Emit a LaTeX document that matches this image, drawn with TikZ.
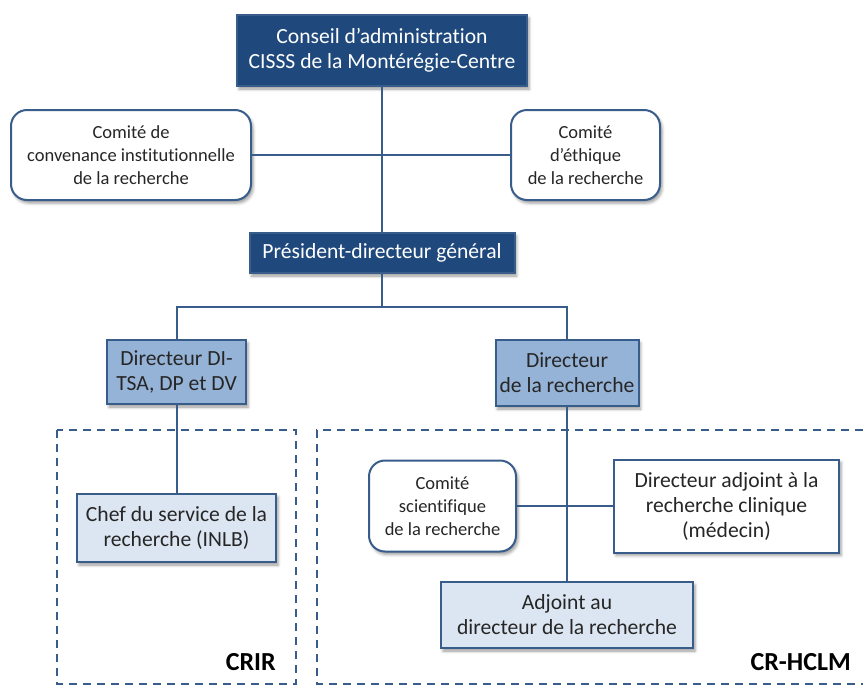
\documentclass[tikz,border=0pt]{standalone}
\usepackage{fontspec}
\setmainfont{Carlito}[Ligatures={NoCommon}]
\usetikzlibrary{shadows.blur}
\definecolor{navy}{HTML}{1F497D}
\definecolor{edgeblue}{HTML}{385D8A}
\definecolor{midblue}{HTML}{95B3D7}
\definecolor{paleblue}{HTML}{DCE6F2}
\definecolor{ink}{HTML}{262626}

\begin{document}
\begin{tikzpicture}[x=1pt,y=-1pt,
  box/.style={draw=edgeblue, line width=2pt, align=center, inner sep=0pt, text=ink,
    font=\fontsize{21.6}{25}\selectfont,
    blur shadow={shadow xshift=2pt, shadow yshift=-3pt, shadow opacity=40, shadow blur radius=3pt}},
  darkbox/.style={box, fill=navy, text=white},
  midbox/.style={box, fill=midblue},
  palebox/.style={box, fill=paleblue},
  plainbox/.style={box, fill=white},
  comite/.style={box, fill=white, rounded corners=16pt, font=\fontsize{18.5}{23}\selectfont},
  link/.style={draw=edgeblue, line width=2pt},
  zone/.style={draw=edgeblue, line width=2pt, dash pattern=on 8pt off 6pt},
  zonelabel/.style={font=\fontsize{26}{30}\selectfont\bfseries, text=black, inner sep=0pt}]
\useasboundingbox (0,0) rectangle (863,686);

% dashed areas
\draw[zone] (57,430) rectangle (296,684);
\draw[zone] (863,430) -- (317,430) -- (317,684) -- (863,684);
\node[zonelabel, anchor=base east] (crir) at (276,670) {CRIR};
\node[zonelabel, anchor=base east] (crhclm) at (851,670) {CR-HCLM};

% top of the chart
\node[darkbox, minimum width=290, minimum height=71] (conseil) at (382,50.5)
  {Conseil d’administration\\CISSS de la Montérégie-Centre};
\node[comite, minimum width=240, minimum height=90] (convenance) at (131,155)
  {Comité de\\convenance institutionnelle\\de la recherche};
\node[comite, minimum width=149, minimum height=90] (ethique) at (585.5,155)
  {Comité\\d’éthique\\de la recherche};
\node[darkbox, minimum width=265, minimum height=40] (pdg) at (382,253)
  {Président-directeur général};

% directors
\node[midbox, minimum width=139, minimum height=64] (dirdi) at (176.5,372)
  {Directeur DI-\\TSA, DP et DV};
\node[midbox, minimum width=143, minimum height=66] (dirrech) at (567,373)
  {Directeur\\de la recherche};

% CRIR
\node[palebox, minimum width=199, minimum height=68] (chef) at (176.5,528)
  {Chef du service de la\\recherche (INLB)};

% CR-HCLM
\node[comite, minimum width=147, minimum height=91] (scient) at (442.5,506)
  {Comité\\scientifique\\de la recherche};
\node[plainbox, minimum width=225, minimum height=93] (adjclin) at (726.5,506)
  {Directeur adjoint à la\\recherche clinique\\(médecin)};
\node[palebox, minimum width=252, minimum height=66] (adjoint) at (567,615)
  {Adjoint au\\directeur de la recherche};

% connectors
\coordinate (split) at (382,307);
\draw[link] (conseil) -- (pdg);
\draw[link] (convenance) -- (ethique);
\draw[link] (pdg) -- (split) -| (dirdi);
\draw[link] (split) -| (dirrech);
\draw[link] (dirdi) -- (chef);
\draw[link] (dirrech) -- (adjoint);
\draw[link] (scient) -- (adjclin);
\end{tikzpicture}
\end{document}
